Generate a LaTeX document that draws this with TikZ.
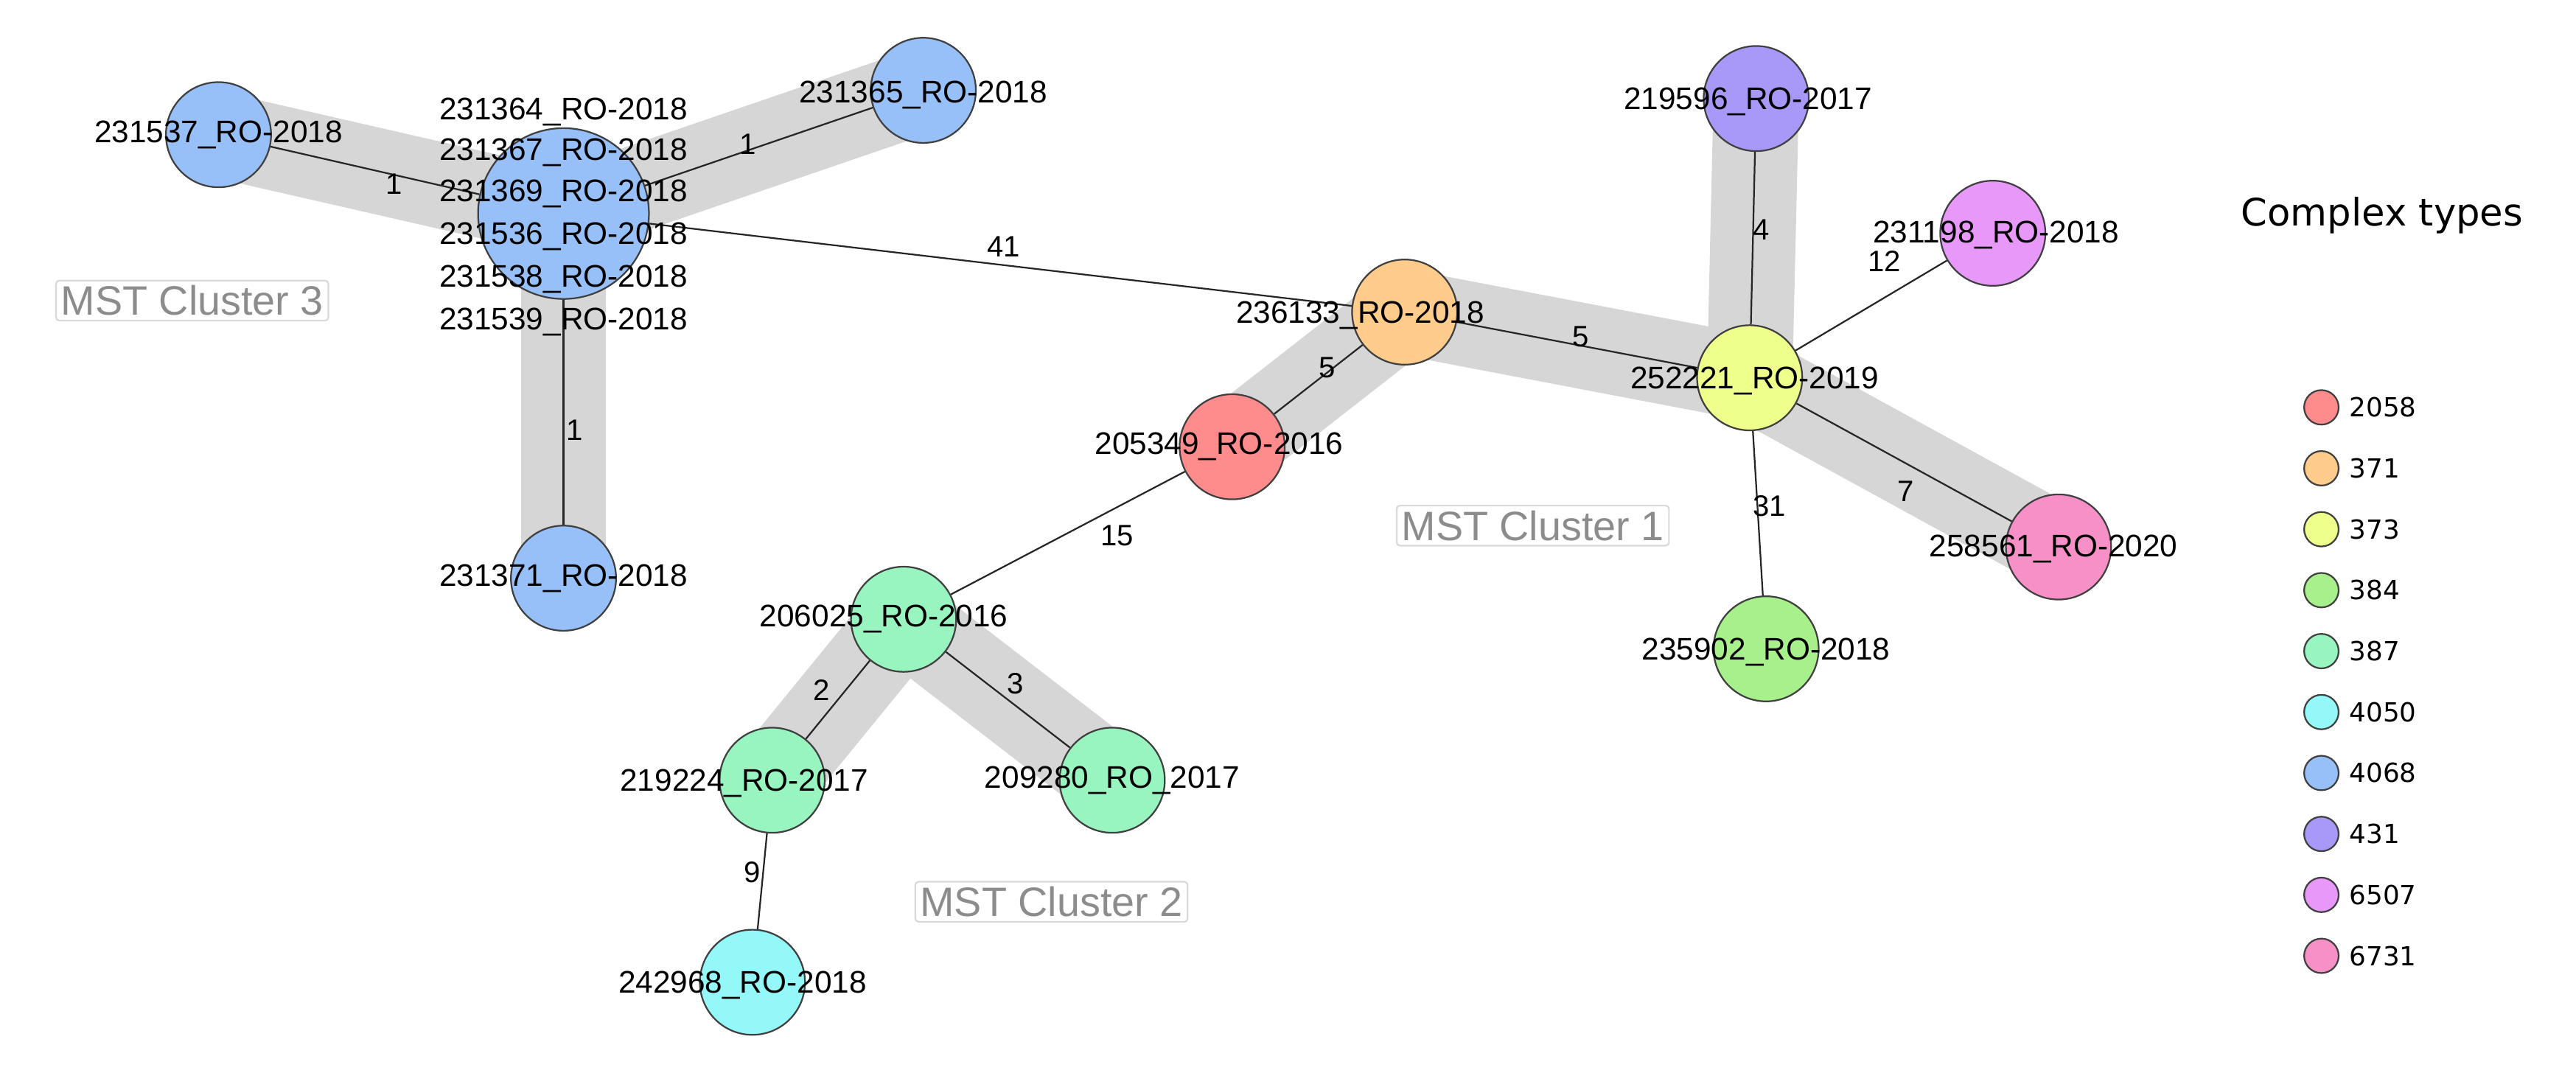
\documentclass[tikz,border=0pt]{standalone}
\usepackage{fontspec}
\setmainfont{Liberation Sans}
\newfontfamily\legfont{DejaVu Sans}
\definecolor{c2058}{HTML}{FF8C8C}
\definecolor{c371}{HTML}{FFCC8C}
\definecolor{c373}{HTML}{EEFF8C}
\definecolor{c384}{HTML}{A8F08C}
\definecolor{c387}{HTML}{98F5C0}
\definecolor{c4050}{HTML}{94F8F8}
\definecolor{c4068}{HTML}{98C0F8}
\definecolor{c431}{HTML}{A898F8}
\definecolor{c6507}{HTML}{E898F8}
\definecolor{c6731}{HTML}{F890C8}
\definecolor{band}{HTML}{D6D6D6}
\begin{document}
\begin{tikzpicture}[x=1pt,y=-1pt,
  nd/.style={circle,draw=black!75,line width=1pt,minimum size=64pt,inner sep=0pt},
  lbl/.style={font=\fontsize{19}{22}\selectfont,inner sep=0pt},
  el/.style={font=\fontsize{18}{20}\selectfont,inner sep=1pt},
  bandline/.style={band,line width=52pt,line cap=round,line join=round},
  clus/.style={draw=black!15,line width=1pt,rounded corners=2pt,text=black!45,font=\fontsize{25}{28}\selectfont,inner sep=3pt},
  leg/.style={circle,draw=black!75,line width=1pt,minimum size=21pt,inner sep=0pt},
  legt/.style={font=\legfont\fontsize{16}{18}\selectfont,anchor=west,inner sep=0pt},
  ed/.style={black!85,line width=1pt}]
\useasboundingbox (0,0) rectangle (1568,651);
% coordinates
\coordinate (pA) at (133,82);
\coordinate (pH) at (343,130);
\coordinate (pB) at (562,55);
\coordinate (pC) at (343,352);
\coordinate (pO) at (855,190);
\coordinate (pR) at (750,272);
\coordinate (pG) at (550,377);
\coordinate (pG1) at (470,475);
\coordinate (pG2) at (677,475);
\coordinate (pCy) at (458,598);
\coordinate (pP) at (1069,60);
\coordinate (pY) at (1065,230);
\coordinate (pV) at (1213,142);
\coordinate (pK) at (1253,333);
\coordinate (pL) at (1075,395);
% bands
\draw[bandline] (pA) -- (pH) -- (pB);
\draw[bandline] (pH) -- (pC);
\draw[bandline] (pR) -- (pO) -- (pY) -- (pK);
\draw[bandline] (pP) -- (pY);
\draw[bandline] (pG1) -- (pG) -- (pG2);
% nodes
\node[nd,fill=c4068] (A) at (pA) {};
\node[nd,fill=c4068,minimum size=104pt] (H) at (pH) {};
\node[nd,fill=c4068] (B) at (pB) {};
\node[nd,fill=c4068] (C) at (pC) {};
\node[nd,fill=c371] (O) at (pO) {};
\node[nd,fill=c2058] (R) at (pR) {};
\node[nd,fill=c387] (G) at (pG) {};
\node[nd,fill=c387] (G1) at (pG1) {};
\node[nd,fill=c387] (G2) at (pG2) {};
\node[nd,fill=c4050] (Cy) at (pCy) {};
\node[nd,fill=c431] (P) at (pP) {};
\node[nd,fill=c373] (Y) at (pY) {};
\node[nd,fill=c6507] (V) at (pV) {};
\node[nd,fill=c6731] (K) at (pK) {};
\node[nd,fill=c384] (L) at (pL) {};
% edges
\draw[ed] (A) -- (H);
\draw[ed] (B) -- (H);
\draw[ed] (C) -- (H);
\draw[ed] (H) -- (O);
\draw[ed] (O) -- (Y);
\draw[ed] (O) -- (R);
\draw[ed] (R) -- (G);
\draw[ed] (G) -- (G1);
\draw[ed] (G) -- (G2);
\draw[ed] (G1) -- (Cy);
\draw[ed] (P) -- (Y);
\draw[ed] (V) -- (Y);
\draw[ed] (K) -- (Y);
\draw[ed] (L) -- (Y);
% node labels
\node[lbl] (tA) at (133,82) {231537\_RO-2018};
\node[lbl] (tB) at (562,58) {231365\_RO-2018};
\node[lbl] (tC) at (343,352) {231371\_RO-2018};
\node[lbl] (tH1) at (343,68) {231364\_RO-2018};
\node[lbl] (tH2) at (343,93) {231367\_RO-2018};
\node[lbl] (tH3) at (343,118) {231369\_RO-2018};
\node[lbl] (tH4) at (343,144) {231536\_RO-2018};
\node[lbl] (tH5) at (343,170) {231538\_RO-2018};
\node[lbl] (tH6) at (343,196) {231539\_RO-2018};
\node[lbl] (tO) at (828,192) {236133\_RO-2018};
\node[lbl] (tR) at (742,272) {205349\_RO-2016};
\node[lbl] (tG) at (538,377) {206025\_RO-2016};
\node[lbl] (tG1) at (453,477) {219224\_RO-2017};
\node[lbl] (tG2) at (677,475) {209280\_RO\_2017};
\node[lbl] (tCy) at (452,600) {242968\_RO-2018};
\node[lbl] (tP) at (1064,62) {219596\_RO-2017};
\node[lbl] (tY) at (1068,232) {252221\_RO-2019};
\node[lbl] (tV) at (1215,143) {231198\_RO-2018};
\node[lbl] (tK) at (1250,334) {258561\_RO-2020};
\node[lbl] (tL) at (1075,397) {235902\_RO-2018};
% edge labels
\node[el] (e1) at (240,112) {1};
\node[el] (e2) at (455,88) {1};
\node[el] (e3) at (350,262) {1};
\node[el] (e4) at (611,150) {41};
\node[el] (e5) at (962,205) {5};
\node[el] (e6) at (808,224) {5};
\node[el] (e7) at (680,326) {15};
\node[el] (e8) at (1072,140) {4};
\node[el] (e9) at (1147,159) {12};
\node[el] (e10) at (1160,299) {7};
\node[el] (e11) at (1077,308) {31};
\node[el] (e12) at (500,420) {2};
\node[el] (e13) at (618,416) {3};
\node[el] (e14) at (458,531) {9};
% cluster labels
\node[clus] (k3) at (117,183) {MST Cluster 3};
\node[clus] (k1) at (933,320) {MST Cluster 1};
\node[clus] (k2) at (640,549) {MST Cluster 2};
% legend
\node[font=\legfont\fontsize{23}{26}\selectfont,inner sep=0pt] (lt) at (1450,131) {Complex types};
\foreach \c [count=\i from 0] in {2058,371,373,384,387,4050,4068,431,6507,6731}{
  \node[leg,fill=c\c] (lg\i) at (1413,248+37.1*\i) {};
  \node[legt] (lgt\i) at (1430,248+37.1*\i) {\c};
}
\end{tikzpicture}
\end{document}
